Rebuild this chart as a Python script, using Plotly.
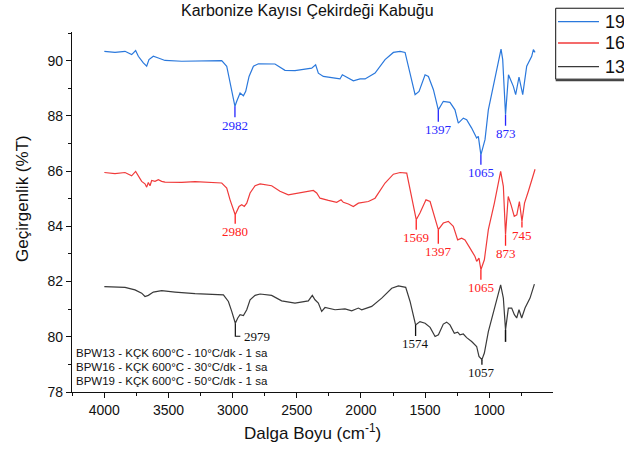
import numpy as np
import plotly.graph_objects as go

# FTIR spectra of carbonised apricot kernel shell (wavenumber in cm-1, %T)
wn_19 = [4000, 3917, 3839, 3787, 3756, 3735, 3696, 3670, 3652, 3618, 3579, 3527, 3397, 3085, 3046, 3020,
         2982, 2968, 2942, 2916, 2898, 2872, 2838, 2799, 2670, 2592, 2514, 2384, 2353, 2332, 2293, 2202,
         2163, 2145, 2111, 2059, 2007, 1968, 1890, 1812, 1747, 1695, 1656, 1617, 1578, 1547, 1500, 1474,
         1435, 1397, 1358, 1306, 1267, 1241, 1202, 1176, 1137, 1098, 1085, 1065, 1033, 1007, 955, 908,
         895, 873, 850, 812, 794, 768, 739, 708, 669, 656, 643]
t_19 = [90.34, 90.30, 90.34, 90.22, 90.37, 90.16, 89.92, 89.80, 90.04, 90.16, 90.10, 90.01, 89.98, 90.00, 89.80, 89.19,
        88.35, 88.53, 88.83, 88.73, 88.89, 89.43, 89.80, 89.89, 89.88, 89.65, 89.64, 89.73, 89.85, 89.55, 89.43, 89.37,
        89.34, 89.49, 89.40, 89.27, 89.34, 89.34, 89.55, 90.04, 90.30, 90.34, 90.30, 89.55, 88.77, 88.89, 89.49, 89.43,
        88.95, 88.22, 88.53, 88.49, 88.22, 87.74, 87.92, 87.86, 87.56, 87.20, 87.26, 86.59, 87.14, 88.22, 89.31, 90.42,
        90.04, 88.04, 89.49, 89.07, 88.77, 89.41, 88.77, 89.80, 90.16, 90.40, 90.30]

wn_16 = [4000, 3917, 3839, 3787, 3756, 3735, 3709, 3683, 3670, 3657, 3644, 3631, 3605, 3579, 3553, 3527,
         3397, 3293, 3085, 3046, 3020, 2980, 2968, 2950, 2929, 2909, 2890, 2864, 2825, 2786, 2696, 2631,
         2566, 2488, 2410, 2371, 2345, 2319, 2254, 2189, 2155, 2137, 2098, 2059, 2020, 1942, 1890, 1812,
         1747, 1695, 1643, 1610, 1569, 1540, 1493, 1461, 1428, 1397, 1358, 1319, 1280, 1246, 1215, 1189,
         1150, 1111, 1098, 1080, 1065, 1038, 1007, 960, 911, 890, 873, 852, 830, 805, 785, 765,
         745, 725, 695, 643]
t_16 = [85.95, 85.91, 85.95, 85.83, 85.99, 85.81, 85.63, 85.54, 85.42, 85.59, 85.47, 85.66, 85.63, 85.69, 85.63, 85.60,
        85.59, 85.62, 85.57, 85.39, 84.96, 84.42, 84.54, 84.72, 84.78, 84.72, 84.84, 85.21, 85.47, 85.54, 85.47, 85.27,
        85.14, 85.21, 85.27, 85.30, 85.21, 85.02, 84.94, 84.87, 84.96, 84.87, 84.81, 84.72, 84.84, 84.90, 85.02, 85.57,
        85.89, 85.95, 85.93, 85.21, 84.24, 84.48, 84.96, 84.90, 84.42, 83.88, 84.12, 84.18, 84.00, 83.51, 83.57, 83.51,
        83.21, 82.91, 82.73, 82.85, 82.43, 82.79, 83.88, 84.84, 85.99, 85.45, 83.70, 85.08, 84.78, 84.36, 84.42, 84.90,
        84.18, 84.84, 85.27, 86.07]

wn_13 = [4000, 3917, 3839, 3761, 3709, 3683, 3657, 3618, 3553, 3449, 3293, 3072, 3033, 3007, 2979, 2960,
         2942, 2916, 2890, 2864, 2825, 2786, 2696, 2618, 2514, 2410, 2379, 2358, 2332, 2306, 2280, 2202,
         2124, 2072, 2020, 1994, 1916, 1838, 1760, 1708, 1651, 1617, 1591, 1574, 1540, 1500, 1461, 1422,
         1396, 1358, 1332, 1306, 1272, 1246, 1228, 1202, 1176, 1137, 1098, 1080, 1057, 1038, 1007, 955,
         911, 890, 873, 851, 825, 804, 786, 768, 747, 721, 682, 648]
t_13 = [81.82, 81.81, 81.79, 81.70, 81.58, 81.46, 81.50, 81.62, 81.67, 81.62, 81.56, 81.52, 81.28, 80.92, 80.49, 80.68,
        80.80, 80.77, 80.98, 81.34, 81.50, 81.55, 81.50, 81.30, 81.22, 81.30, 81.50, 81.34, 81.22, 80.92, 81.06, 80.98,
        81.01, 80.94, 81.04, 80.98, 81.10, 81.40, 81.76, 81.84, 81.79, 81.28, 80.80, 80.43, 80.55, 80.49, 80.34, 80.01,
        80.07, 80.46, 80.53, 80.43, 80.13, 80.17, 80.07, 80.10, 79.97, 79.83, 79.65, 79.29, 79.17, 79.41, 80.19, 81.10,
        81.88, 81.40, 80.25, 81.04, 81.04, 80.80, 80.68, 80.98, 80.68, 81.04, 81.40, 81.91]

# Labelled band positions (cm-1) for each spectrum
peaks_19 = [2982, 1397, 1065, 873]
peaks_16 = [2980, 1569, 1397, 1065, 873, 745]
peaks_13 = [1574, 1057]

legend_names = ["19", "16", "13"]
sample_notes = ["BPW13 - KÇK 600°C - 10°C/dk - 1 sa",
                "BPW16 - KÇK 600°C - 30°C/dk - 1 sa",
                "BPW19 - KÇK 600°C - 50°C/dk - 1 sa"]

y_ticks = [78, 80, 82, 84, 86, 88, 90]
x_ticks = [4000, 3500, 3000, 2500, 2000, 1500, 1000, 500]

LINE_BLUE, LINE_RED, LINE_BLACK = "#2a78dc", "#f03a3a", "#3a3a3a"
LAB_BLUE, LAB_RED, LAB_BLACK = "#2626ff", "#ff2020", "#111111"
SERIF = "Liberation Serif, Times New Roman, serif"
SANS = "Liberation Sans, Arial, sans-serif"


def value_at(wn, t, x):
    return float(np.interp(x, wn[::-1], t[::-1]))


fig = go.Figure()
series = [(wn_19, t_19, legend_names[0], LINE_BLUE),
          (wn_16, t_16, legend_names[1], LINE_RED),
          (wn_13, t_13, legend_names[2], LINE_BLACK)]
for wn, t, name, col in series:
    fig.add_trace(go.Scatter(x=wn, y=t, mode="lines", name=name, showlegend=False,
                             line=dict(color=col, width=1.2)))

# band labels with vertical drop lines
label_offsets = {
    "19": {2982: 19, 1397: 20, 1065: 18, 873: 19},
    "16": {2980: 17, 1569: 18, 1397: 22, 1065: 18, 873: 19, 745: 14},
    "13": {1574: 19, 1057: 13},
}
for wn, t, peaks, key, col in [(wn_19, t_19, peaks_19, "19", LAB_BLUE),
                               (wn_16, t_16, peaks_16, "16", LAB_RED),
                               (wn_13, t_13, peaks_13, "13", LAB_BLACK)]:
    for p in peaks:
        fig.add_annotation(x=p, y=value_at(wn, t, p), text=str(p),
                           showarrow=True, arrowhead=0, arrowwidth=1.3, arrowcolor=col,
                           ax=0, ay=label_offsets[key][p], standoff=0, borderpad=0,
                           font=dict(family=SERIF, size=13, color=col))

# 2979 band of the 13 spectrum: elbow leader
v2979 = value_at(wn_13, t_13, 2979)
fig.add_shape(type="path", xref="x", yref="y", xsizemode="pixel", ysizemode="pixel",
              xanchor=2979, yanchor=v2979, path="M0,0 V-13 H5",
              line=dict(color=LAB_BLACK, width=1.2))
fig.add_annotation(x=2979, y=v2979, text="2979", showarrow=False, xanchor="left",
                   yanchor="middle", xshift=7, yshift=-13,
                   font=dict(family=SERIF, size=13, color=LAB_BLACK))
# unlabelled 873 leader on the 13 spectrum
v873 = value_at(wn_13, t_13, 873)
fig.add_shape(type="line", xref="x", yref="y", xsizemode="pixel", ysizemode="pixel",
              xanchor=873, yanchor=v873, x0=0, x1=0, y0=0, y1=-12,
              line=dict(color=LAB_BLACK, width=1.5))

# sample notes, bottom-left inside the plot
for note, yp in zip(sample_notes, [0.109, 0.070, 0.031]):
    fig.add_annotation(xref="paper", yref="paper", x=0.005, y=yp, text=note,
                       showarrow=False, xanchor="left", yanchor="middle",
                       font=dict(family=SANS, size=11.5, color="#111111"))

# legend box at the top-right, running past the page edge
fig.add_shape(type="rect", xref="paper", yref="paper", x0=1.0056, x1=1.25, y0=0.869, y1=1.066,
              line=dict(color="#111111", width=1), fillcolor="white", layer="above")
fig.add_shape(type="line", xref="paper", yref="paper", x0=1.0056, x1=1.25, y0=0.866, y1=0.866,
              line=dict(color="#444444", width=2), layer="above")
for (wn, t, name, col), yp in zip(series, [1.0286, 0.9694, 0.9036]):
    fig.add_shape(type="line", xref="paper", yref="paper", x0=1.0104, x1=1.0956, y0=yp, y1=yp,
                  line=dict(color=col, width=1.3), layer="above")
    fig.add_annotation(xref="paper", yref="paper", x=1.104, y=yp, text=name, showarrow=False,
                       xanchor="left", yanchor="middle",
                       font=dict(family=SANS, size=18, color="#111111"))

# titles
fig.add_annotation(xref="paper", yref="paper", x=0.49, y=1.061, text="Karbonize Kayısı Çekirdeği Kabuğu",
                   showarrow=False, xanchor="center", yanchor="middle",
                   font=dict(family=SANS, size=16, color="#111111"))
fig.add_annotation(xref="paper", yref="paper", x=-0.102, y=0.539, text="Geçirgenlik (%T)",
                   showarrow=False, textangle=-90, xanchor="center", yanchor="middle",
                   font=dict(family=SANS, size=17, color="#111111"))
fig.add_annotation(xref="paper", yref="paper", x=0.5, y=-0.111, text="Dalga Boyu (cm<sup>-1</sup>)",
                   showarrow=False, xanchor="center", yanchor="middle",
                   font=dict(family=SANS, size=17, color="#111111"))

axis_common = dict(showgrid=False, zeroline=False, showline=True, linecolor="#111111", linewidth=1.3,
                   ticks="outside", ticklen=5, tickwidth=1.2, tickcolor="#111111",
                   tickfont=dict(family=SANS, size=14, color="#111111"), mirror=False)

fig.update_layout(
    width=624, height=454,
    margin=dict(l=72, r=71, t=32, b=62, autoexpand=False),
    paper_bgcolor="white", plot_bgcolor="white",
    xaxis=dict(range=[4252, 503], tickvals=x_ticks,
               minor=dict(dtick=250, ticks="outside", ticklen=3, tickcolor="#111111", tickwidth=1),
               **axis_common),
    yaxis=dict(range=[78, 91.04], tickvals=y_ticks,
               minor=dict(dtick=1, ticks="outside", ticklen=3, tickcolor="#111111", tickwidth=1),
               **axis_common),
    showlegend=False,
)

fig.write_html("out.html")
